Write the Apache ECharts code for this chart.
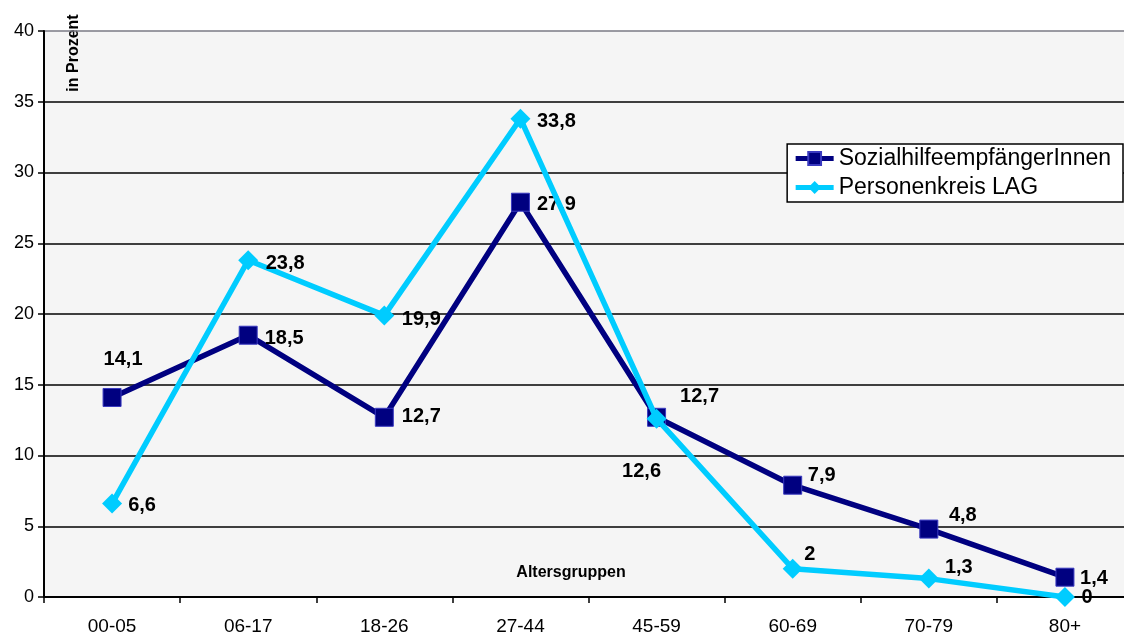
<!DOCTYPE html>
<html>
<head>
<meta charset="utf-8">
<script src="https://cdn.jsdelivr.net/npm/echarts@6/dist/echarts.min.js"></script>
<style>
  html, body { margin: 0; padding: 0; background: #ffffff; overflow: hidden; }
  /* the plot area runs slightly past the right edge of the window */
  #chart { width: 1140px; height: 639px; }
</style>
</head>
<body>
<div id="chart"></div>
<script>
// Age groups and shares (in percent)
const categories = ['00-05', '06-17', '18-26', '27-44', '45-59', '60-69', '70-79', '80+'];
const sozialhilfe = [14.1, 18.5, 12.7, 27.9, 12.7, 7.9, 4.8, 1.4];
const personenkreisLAG = [6.6, 23.8, 19.9, 33.8, 12.6, 2, 1.3, 0];
const seriesNames = ['SozialhilfeempfängerInnen', 'Personenkreis LAG'];

// Label offsets per point (label centre relative to the marker)
const sozialOffsets = [[11, -38], [36, 3], [37, -1], [36, 2], [43, -21], [29, -10], [34, -14], [29, 1]];
const lagOffsets = [[30, 2], [37, 3], [37, 4], [36, 3], [-15, 53], [17, -14], [30, -11], [22, 0]];

const FONT = 'Liberation Sans, Arial, sans-serif';
const fmt = v => String(v).replace('.', ',');

function withLabels(values, offsets) {
  return values.map((v, i) => ({
    value: v,
    label: { offset: offsets[i] }
  }));
}

const labelStyle = {
  show: true,
  position: 'inside',
  align: 'center',
  verticalAlign: 'middle',
  fontFamily: FONT,
  fontWeight: 'bold',
  fontSize: 20,
  color: '#000000',
  formatter: p => fmt(p.value)
};

const chart = echarts.init(document.getElementById('chart'));
chart.setOption({
  animation: false,
  backgroundColor: '#ffffff',
  textStyle: { fontFamily: FONT },
  grid: {
    left: 44, top: 31, width: 1089, height: 566,
    show: true, backgroundColor: '#f5f5f5', borderWidth: 0
  },
  legend: {
    right: 17, top: 144,
    orient: 'vertical',
    backgroundColor: '#ffffff',
    borderColor: '#000000', borderWidth: 1.5, borderRadius: 0,
    padding: [3, 12, 3, 6],
    itemGap: 6,
    itemWidth: 38, itemHeight: 16,
    lineStyle: { width: 5 },
    textStyle: { fontSize: 23, color: '#000000', fontFamily: FONT },
    data: seriesNames
  },
  xAxis: {
    type: 'category',
    data: categories,
    boundaryGap: true,
    axisLine: { lineStyle: { color: '#000000', width: 2 } },
    axisTick: { show: true, length: 6, lineStyle: { color: '#000000', width: 1.5 } },
    axisLabel: { fontSize: 19, color: '#000000', margin: 20 }
  },
  yAxis: {
    type: 'value',
    min: 0, max: 40, interval: 5,
    axisLine: { show: true, lineStyle: { color: '#000000', width: 2 } },
    axisTick: { show: true, length: 6, lineStyle: { color: '#000000', width: 1.5 } },
    axisLabel: { fontSize: 18, color: '#000000', margin: 10 },
    splitLine: {
      show: true,
      lineStyle: {
        color: ['#000000', '#000000', '#000000', '#000000', '#000000', '#000000', '#000000', '#000000', '#7a7a84'],
        width: 1.5
      }
    }
  },
  graphic: [
    {
      type: 'text', x: 74, y: 53, rotation: Math.PI / 2,
      style: { text: 'in Prozent', fontSize: 16, fontWeight: 'bold', fill: '#000000',
               fontFamily: FONT, align: 'center', verticalAlign: 'middle' }
    },
    {
      type: 'text', x: 571, y: 573,
      style: { text: 'Altersgruppen', fontSize: 16, fontWeight: 'bold', fill: '#000000',
               fontFamily: FONT, align: 'center', verticalAlign: 'middle' }
    }
  ],
  series: [
    {
      name: seriesNames[0],
      type: 'line',
      data: withLabels(sozialhilfe, sozialOffsets),
      symbol: 'rect',
      symbolSize: 18,
      lineStyle: { color: '#000080', width: 5.5 },
      itemStyle: { color: '#000080', borderColor: '#3a3ac0', borderWidth: 1 },
      label: labelStyle,
      z: 2
    },
    {
      name: seriesNames[1],
      type: 'line',
      data: withLabels(personenkreisLAG, lagOffsets),
      symbol: 'diamond',
      symbolSize: 20,
      lineStyle: { color: '#00ccff', width: 5.5 },
      itemStyle: { color: '#00ccff', borderWidth: 0 },
      label: labelStyle,
      z: 3
    }
  ]
});
</script>
</body>
</html>
